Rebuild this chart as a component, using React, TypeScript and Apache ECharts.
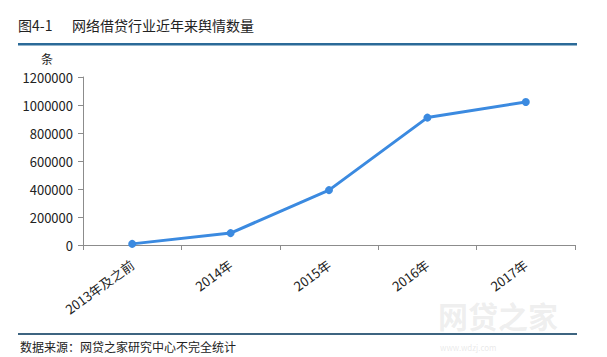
import React, { useEffect, useRef } from "react";
import * as echarts from "echarts";

const categories = ["2013年及之前", "2014年", "2015年", "2016年", "2017年"];
const values = [8000, 85000, 392000, 910000, 1022000];
const titleNo = "图4-1";
const titleText = "网络借贷行业近年来舆情数量";
const unitLabel = "条";
const sourceText = "数据来源：网贷之家研究中心不完全统计";
const watermarkMain = "网贷之家";
const watermarkSub = "www.wdzj.com";

export default function App() {
  const ref = useRef<HTMLDivElement>(null);
  useEffect(() => {
    const chart = echarts.init(ref.current!, null, { renderer: "svg" });
    const font = "'Microsoft YaHei', 'Noto Sans CJK SC', sans-serif";
    chart.setOption({
      animation: false,
      backgroundColor: "#ffffff",
      textStyle: { fontFamily: font },
      grid: { left: 83, right: 32, top: 77, bottom: 112, containLabel: false },
      graphic: [
        { type: "text", left: 438, top: 300, z: -1, style: { text: watermarkMain, fontSize: 30, fontWeight: "bold", fill: "rgba(200,200,200,0.3)", fontFamily: font } },
        { type: "text", left: 440, top: 343, z: -1, style: { text: watermarkSub, fontSize: 8, fill: "rgba(200,200,200,0.4)", fontFamily: font } },
        { type: "text", left: 18, top: 18, style: { text: titleNo, fontSize: 14, fill: "#222", fontFamily: font } },
        { type: "text", left: 72, top: 18, style: { text: titleText, fontSize: 14, fill: "#222", fontFamily: font } },
        { type: "rect", shape: { x: 18, y: 43, width: 559, height: 2.5 }, style: { fill: "#2b6a98" } },
        { type: "rect", shape: { x: 18, y: 333, width: 559, height: 2 }, style: { fill: "#3d6480" } },
        { type: "text", left: 20, top: 340, style: { text: sourceText, fontSize: 12, fill: "#222", fontFamily: font } },
      ],
      xAxis: {
        type: "category",
        data: categories,
        boundaryGap: true,
        axisLine: { lineStyle: { color: "#8c8c8c", width: 1 } },
        axisTick: { show: true, alignWithLabel: false, length: 5, lineStyle: { color: "#8c8c8c" } },
        axisLabel: { rotate: 36, color: "#222", fontSize: 13, margin: 18, interval: 0 },
        splitLine: { show: false },
      },
      yAxis: {
        type: "value",
        min: 0,
        max: 1200000,
        interval: 200000,
        name: unitLabel,
        nameLocation: "end",
        nameGap: 13,
        nameTextStyle: { color: "#222", fontSize: 12, align: "right", padding: [0, 30, 0, 0] },
        axisLine: { show: true, lineStyle: { color: "#8c8c8c", width: 1 } },
        axisTick: { show: true, length: 5, lineStyle: { color: "#8c8c8c" } },
        axisLabel: { color: "#222", fontSize: 13, margin: 10, formatter: (v: number) => String(v) },
        splitLine: { show: false },
      },
      series: [
        {
          type: "line",
          data: values,
          symbol: "circle",
          symbolSize: 8,
          lineStyle: { color: "#3b8ae0", width: 3 },
          itemStyle: { color: "#3b8ae0" },
        },
      ],
    });
    return () => chart.dispose();
  }, []);
  return <div ref={ref} style={{ width: 607, height: 357, position: "absolute", left: 0, top: 0 }} />;
}
